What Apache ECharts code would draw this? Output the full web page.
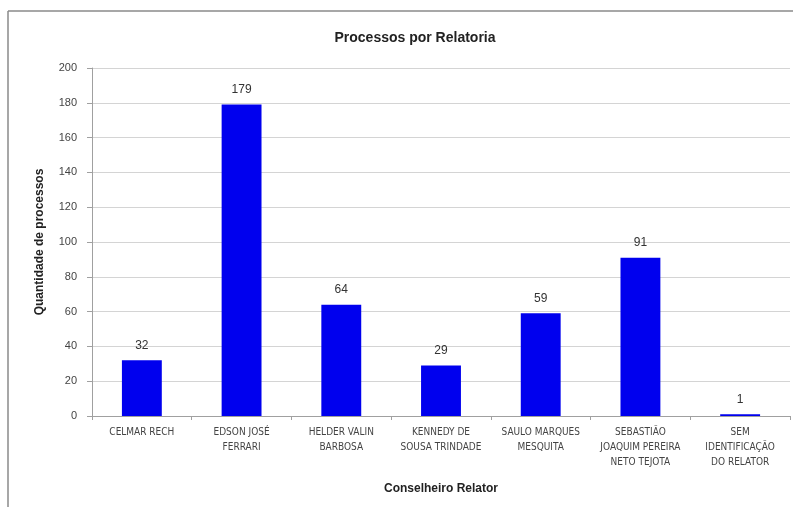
<!DOCTYPE html>
<html>
<head>
<meta charset="utf-8">
<script src="https://cdn.jsdelivr.net/npm/echarts@6/dist/echarts.min.js"></script>
<style>html,body{margin:0;padding:0;background:#fff}#c{width:793px;height:507px}</style>
</head>
<body>
<div id="c"></div>
<script>
const categories = [
  "CELMAR RECH",
  "EDSON JOSÉ\nFERRARI",
  "HELDER VALIN\nBARBOSA",
  "KENNEDY DE\nSOUSA TRINDADE",
  "SAULO MARQUES\nMESQUITA",
  "SEBASTIÃO\nJOAQUIM PEREIRA\nNETO TEJOTA",
  "SEM\nIDENTIFICAÇÃO\nDO RELATOR"
];
const values = [32, 179, 64, 29, 59, 91, 1];
const yTicks = [0, 20, 40, 60, 80, 100, 120, 140, 160, 180, 200];

const chart = echarts.init(document.getElementById('c'));
const fam = '"Liberation Sans Narrow","DejaVu Sans Condensed","Liberation Sans",sans-serif';
chart.setOption({
  animation: false,
  backgroundColor: '#fff',
  title: {
    text: 'Processos por Relatoria',
    left: 410, textAlign: 'center', top: 26,
    textStyle: { fontFamily: '"Liberation Sans",sans-serif', fontWeight: 'bold', fontSize: 14, color: '#222' }
  },
  graphic: [
    { type: 'line', shape: { x1: 8, y1: 11, x2: 8, y2: 507 }, style: { stroke: '#8a8a8a', lineWidth: 1.5 } },
    { type: 'line', shape: { x1: 8, y1: 11, x2: 793, y2: 11 }, style: { stroke: '#8a8a8a', lineWidth: 1.5 } }
  ],
  grid: { left: 92, right: 3, top: 68, bottom: 91 },
  xAxis: {
    type: 'category',
    data: categories,
    name: 'Conselheiro Relator',
    nameLocation: 'middle',
    nameGap: 67,
    nameTextStyle: { fontFamily: '"Liberation Sans",sans-serif', fontWeight: 'bold', fontSize: 12, color: '#222' },
    axisLine: { lineStyle: { color: '#a0a0a0' } },
    axisTick: { show: true, length: 4, lineStyle: { color: '#a0a0a0' } },
    axisLabel: { interval: 0, fontFamily: fam, fontSize: 10, color: '#444', lineHeight: 15, margin: 9 }
  },
  yAxis: {
    type: 'value',
    min: 0, max: 200, interval: 20,
    name: 'Quantidade de processos',
    nameLocation: 'middle',
    nameGap: 46,
    nameRotate: 90,
    nameTextStyle: { fontFamily: '"Liberation Sans",sans-serif', fontWeight: 'bold', fontSize: 12, color: '#222' },
    axisLine: { show: true, lineStyle: { color: '#a0a0a0' } },
    axisTick: { show: true, length: 5, lineStyle: { color: '#a0a0a0' } },
    splitLine: { lineStyle: { color: '#d4d4d4' } },
    axisLabel: {
      fontFamily: '"Liberation Sans",sans-serif', fontSize: 11, color: '#444', margin: 15,
      formatter: v => yTicks.includes(v) ? String(v) : ''
    }
  },
  series: [{
    type: 'bar',
    data: values,
    barWidth: '40%',
    itemStyle: { color: '#0000ee' },
    label: { show: true, position: 'top', distance: 9, fontFamily: '"Liberation Sans",sans-serif', fontSize: 12, color: '#333' }
  }]
});
</script>
</body>
</html>
